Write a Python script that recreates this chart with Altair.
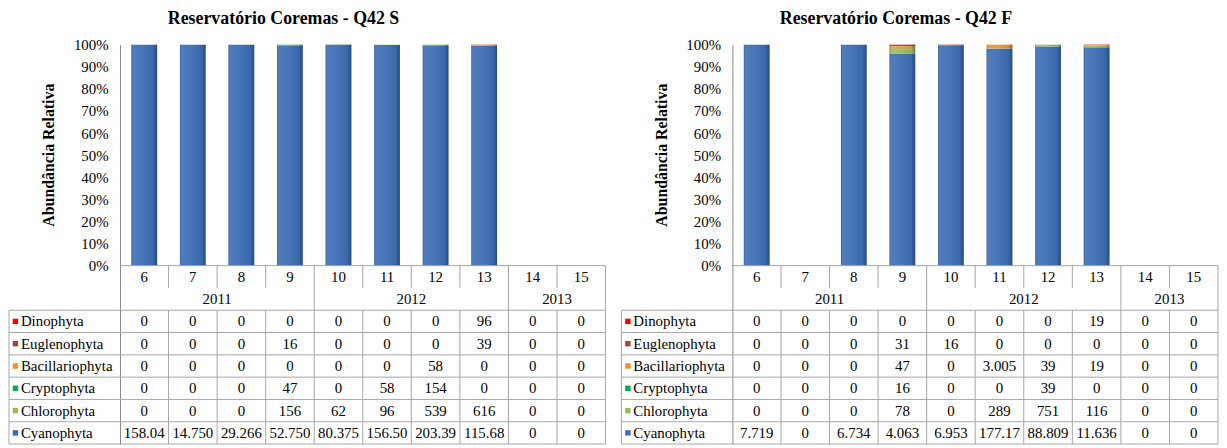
import altair as alt
import pandas as pd

# ---------------- data ----------------
months = ["6", "7", "8", "9", "10", "11", "12", "13", "14", "15"]
years = ["2011", "2012", "2013"]
months_per_year = [4, 4, 2]
taxa = ["Dinophyta", "Euglenophyta", "Bacillariophyta", "Cryptophyta", "Chlorophyta", "Cyanophyta"]
colors = ["#FF0000", "#A9403E", "#F7901E", "#00B050", "#9BBB59", "#3C6DB4"]

s_dino = [0, 0, 0, 0, 0, 0, 0, 96, 0, 0]
s_eugl = [0, 0, 0, 16, 0, 0, 0, 39, 0, 0]
s_baci = [0, 0, 0, 0, 0, 0, 58, 0, 0, 0]
s_cryp = [0, 0, 0, 47, 0, 58, 154, 0, 0, 0]
s_chlo = [0, 0, 0, 156, 62, 96, 539, 616, 0, 0]
s_cyan = [158040, 14750, 29266, 52750, 80375, 156500, 203390, 115680, 0, 0]

f_dino = [0, 0, 0, 0, 0, 0, 0, 19, 0, 0]
f_eugl = [0, 0, 0, 31, 16, 0, 0, 0, 0, 0]
f_baci = [0, 0, 0, 47, 0, 3005, 39, 19, 0, 0]
f_cryp = [0, 0, 0, 16, 0, 0, 39, 0, 0, 0]
f_chlo = [0, 0, 0, 78, 0, 289, 751, 116, 0, 0]
f_cyan = [7719, 0, 6734, 4063, 6953, 177170, 88809, 11636, 0, 0]

series_S = [s_dino, s_eugl, s_baci, s_cryp, s_chlo, s_cyan]
series_F = [f_dino, f_eugl, f_baci, f_cryp, f_chlo, f_cyan]

# ---------------- layout constants ----------------
W = 490            # plot width (10 columns)
BAR_H = 223        # pixels for 0..100 %
ROW_H = 22.5       # table row height
N_ROWS = 8
H = BAR_H + N_ROWS * ROW_H
COL = W / 10.0
ROWU = ROW_H / BAR_H
YMIN = -N_ROWS * ROWU
LEGU = 112 / COL   # legend column width, in column units
FONT = "Liberation Serif"
LINE = "#A6A6A6"

SHADE = {
    "gradient": "linear", "x1": 0, "x2": 1, "y1": 0, "y2": 0,
    "stops": [
        {"offset": 0, "color": "rgba(20,40,80,0.35)"},
        {"offset": 0.08, "color": "rgba(255,255,255,0.10)"},
        {"offset": 0.45, "color": "rgba(255,255,255,0.06)"},
        {"offset": 0.85, "color": "rgba(0,0,0,0.05)"},
        {"offset": 1, "color": "rgba(10,30,70,0.40)"},
    ],
}


def label(v):
    # Excel-like display: dot as thousands separator, cut to cell width
    return f"{v:,}".replace(",", ".")[:6]


YAXIS = alt.Axis(values=[i / 10 for i in range(11)], format=".0%",
                 title="Abundância Relativa", titleFont=FONT,
                 titleFontSize=16, titleFontWeight="bold",
                 titleColor="black", titlePadding=17, titleY=111,
                 labelFont=FONT, labelFontSize=15, labelColor="black",
                 labelPadding=12, ticks=False, grid=False,
                 domainColor="#868686")


def panel(title, series):
    bars_rows = []
    for ti, (name, vals) in enumerate(zip(taxa, series)):
        for mi, m in enumerate(months):
            bars_rows.append({"month": m, "taxon": name, "value": vals[mi],
                              "ord": len(taxa) - 1 - ti})
    bars_df = pd.DataFrame(bars_rows)

    yscale = alt.Scale(domain=[YMIN, 1], nice=False, zero=False)
    xlin = alt.Scale(domain=[0, 10], nice=False, zero=False)
    xband = alt.Scale(domain=months, paddingInner=0.47, paddingOuter=0.235)
    cscale = alt.Scale(domain=taxa, range=colors)

    base = alt.Chart(bars_df).transform_filter("datum.value > 0")
    bars = base.mark_bar().encode(
        x=alt.X("month:N", sort=months, scale=xband, axis=None),
        y=alt.Y("value:Q", stack="normalize", scale=yscale, axis=YAXIS,
                title="Abundância Relativa"),
        color=alt.Color("taxon:N", scale=cscale, legend=None),
        order=alt.Order("ord:Q", sort="ascending"),
    )
    shade = base.mark_bar(color=SHADE).encode(
        x=alt.X("month:N", sort=months, scale=xband, axis=None),
        y=alt.Y("value:Q", stack="normalize", scale=yscale, axis=YAXIS,
                title="Abundância Relativa"),
        detail="taxon:N",
        order=alt.Order("ord:Q", sort="ascending"),
    )

    # table lines
    lines = []
    lines.append({"x": 0, "x2": 10, "y": 0, "y2": 0})
    for r in range(2, N_ROWS + 1):
        lines.append({"x": -LEGU, "x2": 10, "y": -r * ROWU, "y2": -r * ROWU})
    bounds = []
    acc = 0
    for c in months_per_year:
        acc += c
        bounds.append(acc)
    for b in bounds:
        lines.append({"x": b, "x2": b, "y": 0, "y2": YMIN})
    for i in range(1, 10):
        if i in bounds:
            continue
        lines.append({"x": i, "x2": i, "y": 0, "y2": -ROWU})
        lines.append({"x": i, "x2": i, "y": -2 * ROWU, "y2": YMIN})
    lines.append({"x": -LEGU, "x2": -LEGU, "y": -2 * ROWU, "y2": YMIN})
    lines_df = pd.DataFrame(lines)

    rules = alt.Chart(lines_df).mark_rule(color=LINE, strokeWidth=1).encode(
        x=alt.X("x:Q", scale=xlin, axis=None),
        x2="x2:Q",
        y=alt.Y("y:Q", scale=yscale, axis=YAXIS, title="Abundância Relativa"),
        y2="y2:Q",
    )

    head = [{"x": i + 0.5, "y": -0.5 * ROWU, "t": m} for i, m in enumerate(months)]
    start = 0
    for yname, c in zip(years, months_per_year):
        head.append({"x": start + c / 2, "y": -1.5 * ROWU, "t": yname})
        start += c
    for ti, vals in enumerate(series):
        for mi, v in enumerate(vals):
            head.append({"x": mi + 0.5, "y": -(2 + ti + 0.5) * ROWU, "t": label(v)})
    cells_df = pd.DataFrame(head)

    cells = alt.Chart(cells_df).mark_text(font=FONT, fontSize=15, color="black",
                                          baseline="middle", align="center").encode(
        x=alt.X("x:Q", scale=xlin, axis=None),
        y=alt.Y("y:Q", scale=yscale, axis=YAXIS, title="Abundância Relativa"),
        text="t:N",
    )

    leg_df = pd.DataFrame({
        "taxon": taxa,
        "xs": [-LEGU + 6.5 / COL] * len(taxa),
        "xt": [-LEGU + 12 / COL] * len(taxa),
        "y": [-(2 + i + 0.5) * ROWU for i in range(len(taxa))],
    })
    swatch = alt.Chart(leg_df).mark_square(size=30, opacity=1).encode(
        x=alt.X("xs:Q", scale=xlin, axis=None),
        y=alt.Y("y:Q", scale=yscale, axis=YAXIS, title="Abundância Relativa"),
        color=alt.Color("taxon:N", scale=cscale, legend=None),
    )
    legtext = alt.Chart(leg_df).mark_text(font=FONT, fontSize=15, color="black",
                                          baseline="middle", align="left").encode(
        x=alt.X("xt:Q", scale=xlin, axis=None),
        y=alt.Y("y:Q", scale=yscale, axis=YAXIS, title="Abundância Relativa"),
        text="taxon:N",
    )

    return alt.layer(bars, shade, rules, cells, swatch, legtext).resolve_scale(
        x="independent"
    ).properties(
        width=W, height=H,
        title=alt.Title(title, font=FONT, fontSize=18, fontWeight="bold",
                        color="black", anchor="middle", offset=10, dx=-80),
    )


left = panel("Reservatório Coremas - Q42 S", series_S)
right = panel("Reservatório Coremas - Q42 F", series_F)

chart = alt.hconcat(left, right, spacing=14).configure_view(stroke=None).properties(
    background="white", padding=0
)

chart.save("out.html", embed_options={"renderer": "svg", "actions": False})
